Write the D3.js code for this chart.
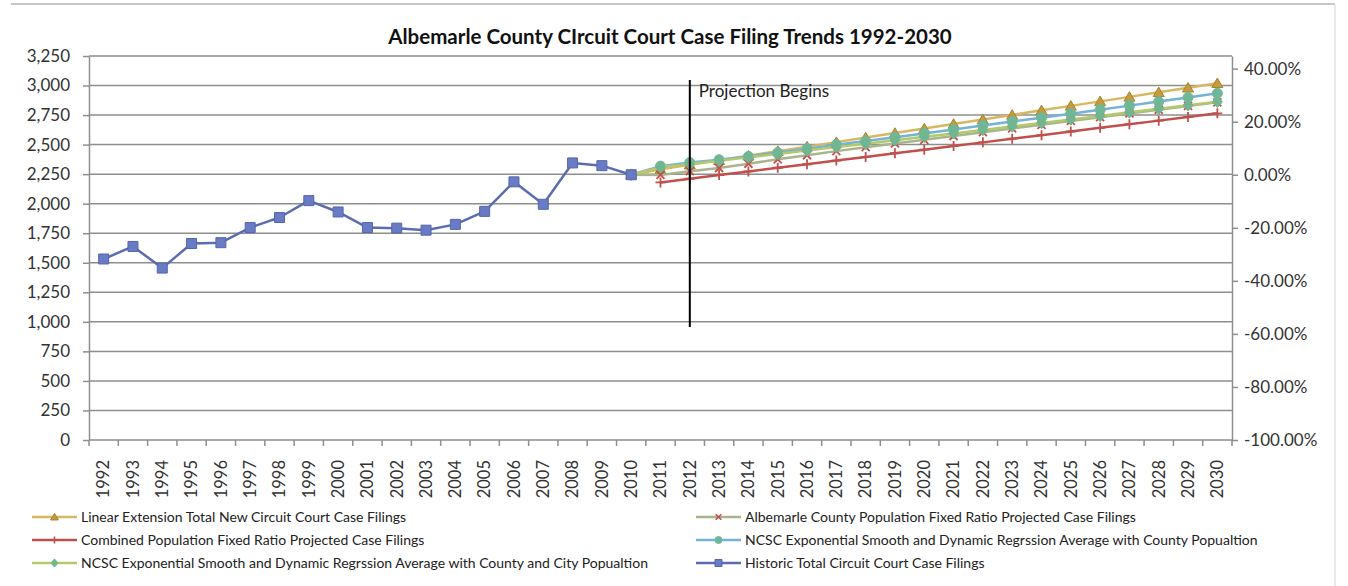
<!DOCTYPE html>
<html>
<head>
<meta charset="utf-8">
<script src="https://cdnjs.cloudflare.com/ajax/libs/d3/7.8.5/d3.min.js"></script>
<style>
  body { margin: 0; background: #fff; }
  svg { display: block; font-family: Lato, "Open Sans", sans-serif; }
</style>
</head>
<body>
<script>
/* Chart data */

const years = [1992, 1993, 1994, 1995, 1996, 1997, 1998, 1999, 2000, 2001, 2002,
               2003, 2004, 2005, 2006, 2007, 2008, 2009, 2010, 2011, 2012, 2013,
               2014, 2015, 2016, 2017, 2018, 2019, 2020, 2021, 2022, 2023, 2024,
               2025, 2026, 2027, 2028, 2029, 2030];

// 1992 - 2010
const historic = [1532, 1638, 1455, 1663, 1670, 1798, 1883, 2026, 1930, 1798,
                  1793, 1776, 1825, 1935, 2185, 1995, 2345, 2322, 2245];

// 2010 - 2030
const linearExt = [2245, 2292, 2330, 2368, 2406, 2445, 2483, 2521, 2560, 2598, 2636,
                   2675, 2713, 2751, 2790, 2828, 2866, 2904, 2943, 2981, 3019];
const albemarleRatio = [2245, 2243, 2275, 2302, 2338, 2376, 2410, 2445, 2478, 2510, 2541,
                        2573, 2605, 2637, 2668, 2700, 2732, 2764, 2795, 2827, 2858];
const combinedRatio = [null, 2180, 2211, 2242, 2273, 2304, 2334, 2365, 2396, 2427, 2457,
                       2488, 2519, 2550, 2580, 2611, 2642, 2673, 2703, 2734, 2765];
const ncscCounty = [2245, 2318, 2348, 2372, 2400, 2433, 2465, 2500, 2530, 2562, 2595,
                    2628, 2662, 2695, 2728, 2762, 2796, 2830, 2864, 2899, 2934];
const ncscCountyCity = [2245, 2308, 2336, 2364, 2392, 2420, 2450, 2479, 2508, 2537, 2566,
                        2595, 2624, 2654, 2683, 2713, 2743, 2773, 2803, 2833, 2862];

const leftTicks = [0, 250, 500, 750, 1000, 1250, 1500, 1750, 2000, 2250, 2500, 2750, 3000, 3250];
const rightTicks = [-1, -0.8, -0.6, -0.4, -0.2, 0, 0.2, 0.4];

const projectionYear = 2012;
const projectionSpan = [956, 3047];

/* Chart size */

const w = 1348,
      h = 586,
      plotLeft = 89,
      plotRight = 1232,
      plotTop = 56,
      plotBottom = 440;

const svg = d3.select("body")
              .append("svg")
              .attr("width", w)
              .attr("height", h);

/* Scales */

const x = d3.scaleBand().domain(years).range([plotLeft, plotRight]);
const cx = (yr) => x(yr) + x.bandwidth() / 2;

const y = d3.scaleLinear().domain([0, 3250]).range([plotBottom, plotTop]);
const base = historic[historic.length - 1];
const yRight = d3.scaleLinear().domain([-1, 3250 / base - 1]).range([plotBottom, plotTop]);

/* Series */

const projYears = years.slice(years.indexOf(2010));
const toPoints = (vals, yrs) => yrs.map((yr, i) => ({ year: yr, v: vals[i] }));

const series = [
  { name: "Linear Extension Total New Circuit Court Case Filings",
    data: toPoints(linearExt, projYears), line: "#d8b762", marker: "triangle", fill: "#c39c3f", stroke: "#a9832c" },
  { name: "Albemarle County Population Fixed Ratio Projected Case Filings",
    data: toPoints(albemarleRatio, projYears), line: "#a8b48c", marker: "x", fill: "none", stroke: "#c0504d" },
  { name: "Combined Population Fixed Ratio Projected Case Filings",
    data: toPoints(combinedRatio, projYears), line: "#c0504d", marker: "plus", fill: "none", stroke: "#c0504d" },
  { name: "NCSC Exponential Smooth and Dynamic Regrssion Average with County Popualtion",
    data: toPoints(ncscCounty, projYears), line: "#72b3d6", marker: "circle", fill: "#6fb79a", stroke: "#6fb79a" },
  { name: "NCSC Exponential Smooth and Dynamic Regrssion Average with County and City Popualtion",
    data: toPoints(ncscCountyCity, projYears), line: "#b3c96b", marker: "diamond", fill: "#72b591", stroke: "#72b591" },
  { name: "Historic Total Circuit Court Case Filings",
    data: toPoints(historic, years), line: "#5b6db0", marker: "square", fill: "#6a7bc6", stroke: "#5566ab" }
];

// Excel-like markers, s = marker width in px
function markerPath(type, s) {
  const r = s / 2;
  if (type === "plus") return `M${-r},0H${r}M0,${-r}V${r}`;
  if (type === "x") return `M${-r * 0.8},${-r * 0.8}L${r * 0.8},${r * 0.8}M${-r * 0.8},${r * 0.8}L${r * 0.8},${-r * 0.8}`;
  if (type === "square") return `M${-r},${-r}H${r}V${r}H${-r}Z`;
  if (type === "diamond") return `M0,${-r * 1.15}L${r},0L0,${r * 1.15}L${-r},0Z`;
  if (type === "triangle") return `M0,${-r * 1.05}L${r * 1.1},${r * 0.85}L${-r * 1.1},${r * 0.85}Z`;
  return d3.arc()({ innerRadius: 0, outerRadius: r, startAngle: 0, endAngle: 2 * Math.PI });
}

/* Chart border */

svg.append("line")
   .attr("x1", 11).attr("x2", 1335).attr("y1", 4).attr("y2", 4)
   .attr("stroke", "#c6c6c6").attr("stroke-width", 2);
svg.append("line")
   .attr("x1", 1335).attr("x2", 1335).attr("y1", 4).attr("y2", h)
   .attr("stroke", "#e2e2e2").attr("stroke-width", 1.5);

/* Title */

svg.append("text")
   .attr("x", 670)
   .attr("y", 44)
   .attr("text-anchor", "middle")
   .attr("font-size", 20.5)
   .attr("font-weight", "bold")
   .attr("fill", "#111")
   .text("Albemarle County CIrcuit Court Case Filing Trends 1992-2030");

/* Gridlines */

svg.append("g").selectAll("line")
   .data(leftTicks)
   .enter()
   .append("line")
   .attr("x1", plotLeft).attr("x2", plotRight)
   .attr("y1", (d) => y(d)).attr("y2", (d) => y(d))
   .attr("stroke", "#8e8e8e")
   .attr("stroke-width", 1.5);

/* Axes */

const leftAxis = svg.append("g")
   .attr("transform", "translate(" + plotLeft + ",0)")
   .call(d3.axisLeft(y).tickValues(leftTicks).tickSize(6).tickSizeOuter(0).tickPadding(13).tickFormat(d3.format(",")));

const rightAxis = svg.append("g")
   .attr("transform", "translate(" + plotRight + ",0)")
   .call(d3.axisRight(yRight).tickValues(rightTicks).tickSize(6).tickSizeOuter(0).tickPadding(6)
           .tickFormat((d) => (d * 100).toFixed(2).replace("-0.00", "0.00") + "%"));

[leftAxis, rightAxis].forEach((g) => {
  g.select(".domain").attr("stroke", "#8e8e8e").attr("stroke-width", 1.5);
  g.selectAll(".tick line").attr("stroke", "#8e8e8e").attr("stroke-width", 1.5);
  g.selectAll(".tick text").attr("font-size", 17).attr("fill", "#333")
   .attr("font-family", "Lato, 'Open Sans', sans-serif");
});

// x axis: ticks between categories, rotated year labels
const xAxis = svg.append("g");
xAxis.selectAll("line")
     .data(years.map((d) => x(d)).concat([plotRight]))
     .enter()
     .append("line")
     .attr("x1", (d) => d).attr("x2", (d) => d)
     .attr("y1", plotBottom).attr("y2", plotBottom + 6)
     .attr("stroke", "#8e8e8e").attr("stroke-width", 1.5);
xAxis.selectAll("text")
     .data(years)
     .enter()
     .append("text")
     .attr("transform", (d) => "translate(" + cx(d) + "," + (plotBottom + 20) + ") rotate(-90)")
     .attr("dy", "0.35em")
     .attr("text-anchor", "end")
     .attr("font-size", 16.5)
     .attr("fill", "#333")
     .text((d) => d);

/* Lines and markers */

const line = d3.line()
               .defined((d) => d.v != null)
               .x((d) => cx(d.year))
               .y((d) => y(d.v));

series.forEach((s) => {
  const g = svg.append("g");
  g.append("path")
   .datum(s.data)
   .attr("d", line)
   .attr("fill", "none")
   .attr("stroke", s.line)
   .attr("stroke-width", 2.5)
   .attr("stroke-linejoin", "round");
  g.selectAll("path.mark")
   .data(s.data.filter((d) => d.v != null))
   .enter()
   .append("path")
   .attr("class", "mark")
   .attr("transform", (d) => "translate(" + cx(d.year) + "," + y(d.v) + ")")
   .attr("d", markerPath(s.marker, 10))
   .attr("fill", s.fill)
   .attr("stroke", s.stroke)
   .attr("stroke-width", s.fill === "none" ? 1.8 : 1);
});

/* Projection marker */

svg.append("line")
   .attr("x1", cx(projectionYear)).attr("x2", cx(projectionYear))
   .attr("y1", y(projectionSpan[0])).attr("y2", y(projectionSpan[1]))
   .attr("stroke", "#000")
   .attr("stroke-width", 2);

svg.append("text")
   .attr("x", cx(projectionYear) + 9)
   .attr("y", 91)
   .attr("dy", "0.35em")
   .attr("font-size", 17)
   .attr("fill", "#222")
   .text("Projection Begins");

/* Legend */

const legendCols = [32, 696],
      legendRows = [517, 540, 563];

const legend = svg.append("g").attr("id", "legend");

series.forEach((s, i) => {
  const lx = legendCols[i % 2],
        ly = legendRows[Math.floor(i / 2)];
  const item = legend.append("g").attr("transform", "translate(" + lx + "," + ly + ")");
  item.append("line")
      .attr("x1", 0).attr("x2", 45)
      .attr("stroke", s.line)
      .attr("stroke-width", 2.5);
  item.append("path")
      .attr("transform", "translate(22.5,0)")
      .attr("d", markerPath(s.marker, 7))
      .attr("fill", s.fill)
      .attr("stroke", s.stroke)
      .attr("stroke-width", s.fill === "none" ? 1.6 : 1);
  item.append("text")
      .attr("x", 49)
      .attr("dy", "0.35em")
      .attr("font-size", 14)
      .attr("fill", "#222")
      .text(s.name);
});
</script>
</body>
</html>
